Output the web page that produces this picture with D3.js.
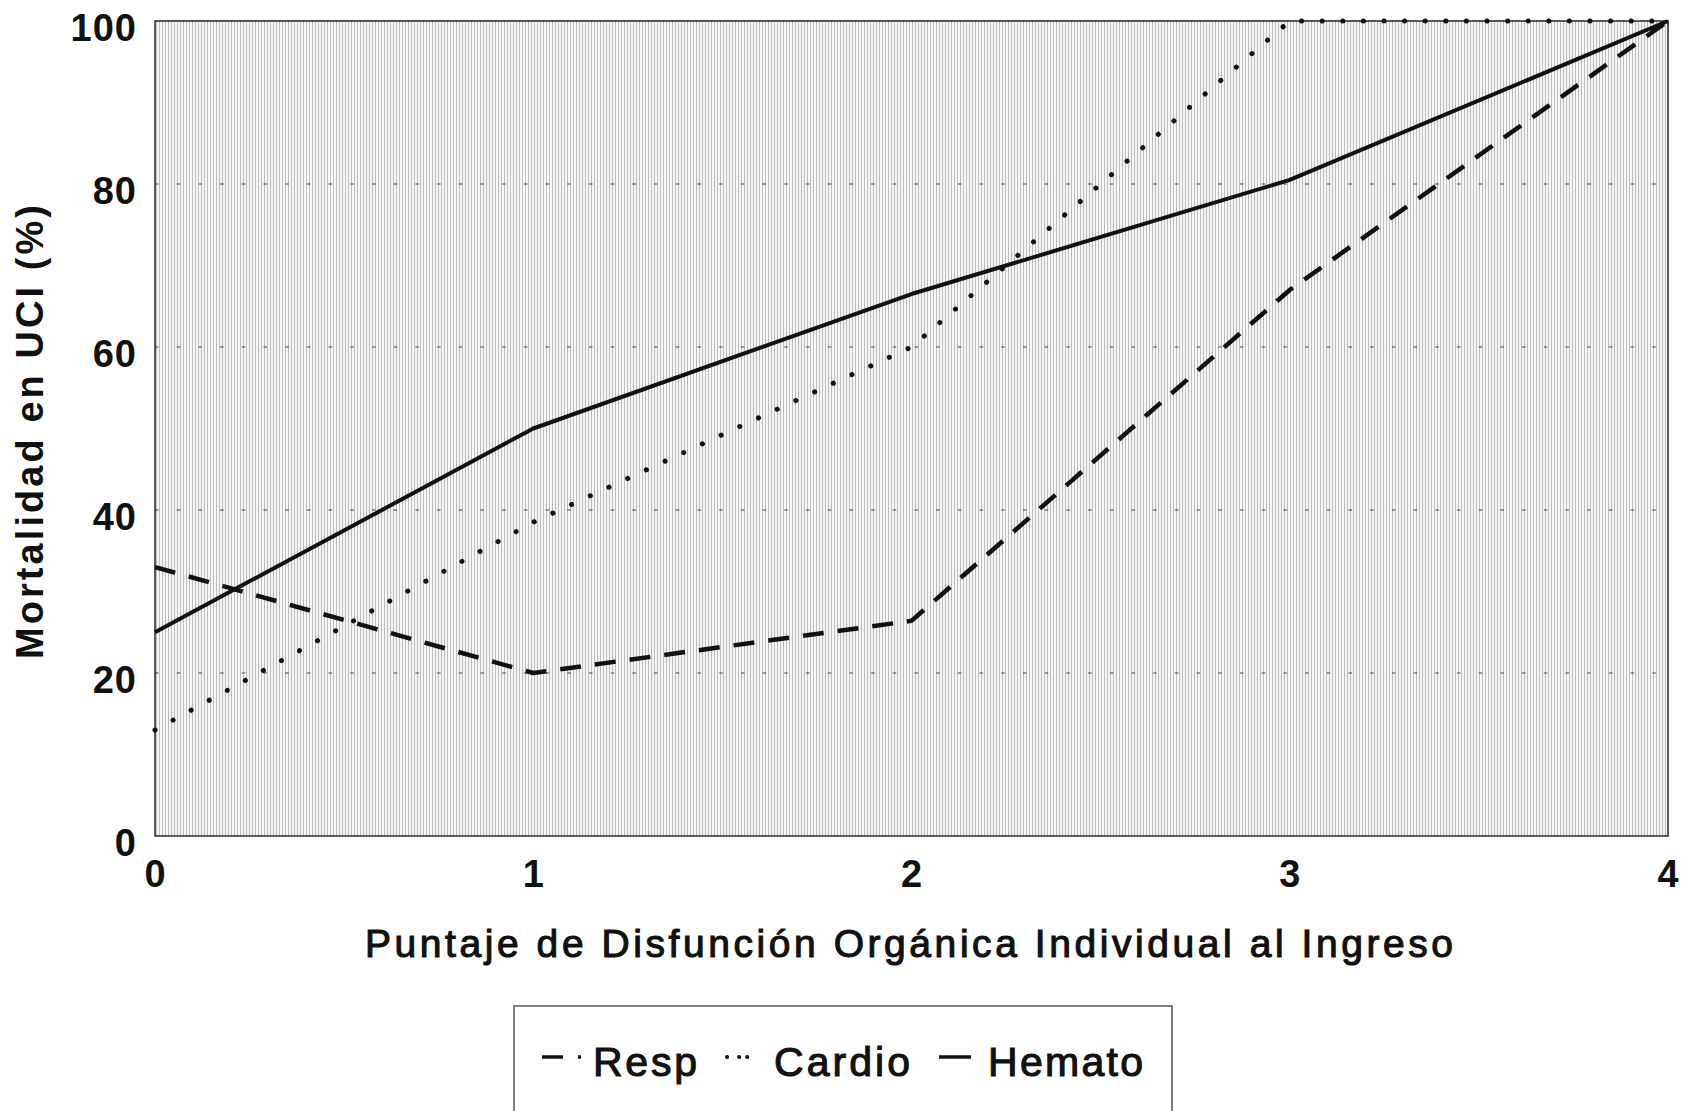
<!DOCTYPE html>
<html lang="es">
<head>
  <meta charset="utf-8">
  <title>Mortalidad en UCI por puntaje de disfunción orgánica</title>
  <script src="https://cdn.jsdelivr.net/npm/d3@7"></script>
  <style>
    body { margin: 0; background: #fff; font-family: "Liberation Sans", Arial, sans-serif; }
  </style>
</head>
<body>
<div id="chart"></div>
<script>

const w = 1682;
const h = 1111;

// data
const scores = [0, 1, 2, 3, 4];
const xTicks = [0, 1, 2, 3, 4];
const yTicks = [0, 20, 40, 60, 80, 100];
const gridValues = [20, 40, 60, 80];
const resp = [33, 20, 26.4, 67, 100];
const cardio = [13, 38.5, 60, 100, 100];
const hemato = [25, 50, 66.5, 80.5, 100];
const seriesNames = ["Resp", "Cardio", "Hemato"];

const plot = { left: 155, right: 1668, top: 21, bottom: 836 };

const x = d3.scaleLinear().domain([0, 4]).range([plot.left, plot.right]);
const y = d3.scaleLinear().domain([0, 100]).range([plot.bottom, plot.top]);

const svg = d3.select("#chart").append("svg")
    .attr("width", w)
    .attr("height", h);

// vertical hatch used as the plot background
const defs = svg.append("defs");
const pat = defs.append("pattern")
    .attr("id", "hatch")
    .attr("patternUnits", "userSpaceOnUse")
    .attr("width", 3)
    .attr("height", 3);
pat.append("rect").attr("width", 3).attr("height", 3).attr("fill", "#f6f6f6");
pat.append("rect").attr("x", 0).attr("width", 1).attr("height", 3).attr("fill", "#bdbdbd");

svg.append("rect")
    .attr("x", plot.left)
    .attr("y", plot.top)
    .attr("width", plot.right - plot.left)
    .attr("height", plot.bottom - plot.top)
    .attr("fill", "url(#hatch)");

// dotted gridlines
svg.selectAll("line.grid")
    .data(gridValues)
    .enter()
    .append("line")
    .attr("class", "grid")
    .attr("x1", plot.left)
    .attr("x2", plot.right)
    .attr("y1", d => y(d))
    .attr("y2", d => y(d))
    .attr("stroke", "#444")
    .attr("stroke-width", 1.2)
    .attr("stroke-dasharray", "3.5 18.2");

// frame
svg.append("rect")
    .attr("x", plot.left)
    .attr("y", plot.top)
    .attr("width", plot.right - plot.left)
    .attr("height", plot.bottom - plot.top)
    .attr("fill", "none")
    .attr("stroke", "#333")
    .attr("stroke-width", 1.6);

// axes, only the labels are visible
const yAxis = svg.append("g")
    .attr("transform", `translate(${plot.left},0)`)
    .call(d3.axisLeft(y).tickValues(yTicks).tickSize(0).tickPadding(18));
const xAxis = svg.append("g")
    .attr("transform", `translate(0,${plot.bottom})`)
    .call(d3.axisBottom(x).tickValues(xTicks).tickFormat(d3.format("d")).tickSize(0).tickPadding(24));

[yAxis, xAxis].forEach(ax => {
    ax.select(".domain").remove();
    ax.selectAll("text")
        .attr("fill", "#111")
        .style("font-family", "'Liberation Sans', Arial, sans-serif")
        .style("font-size", "38px")
        .style("font-weight", "bold")
        .style("letter-spacing", "1px");
});
yAxis.selectAll("text").attr("dy", "0.5em");

// series lines
const line = d3.line()
    .x((d, i) => x(scores[i]))
    .y(d => y(d));

const styles = [
    { data: resp, dash: "21 14", width: 4.5, cap: "butt" },
    { data: cardio, dash: "0.1 20.5", width: 5, cap: "round" },
    { data: hemato, dash: null, width: 4, cap: "butt" }
];

svg.selectAll("path.series")
    .data(styles)
    .enter()
    .append("path")
    .attr("class", "series")
    .attr("d", d => line(d.data))
    .attr("fill", "none")
    .attr("stroke", "#111")
    .attr("stroke-width", d => d.width)
    .attr("stroke-linecap", d => d.cap)
    .attr("stroke-linejoin", "round")
    .attr("stroke-dasharray", d => d.dash);

// axis titles
svg.append("text")
    .attr("transform", "translate(43,432) rotate(-90)")
    .attr("text-anchor", "middle")
    .attr("fill", "#111")
    .attr("font-size", 38)
    .attr("font-weight", "bold")
    .attr("textLength", 454)
    .attr("lengthAdjust", "spacing")
    .text("Mortalidad en UCI (%)");

svg.append("text")
    .attr("x", 909)
    .attr("y", 957)
    .attr("text-anchor", "middle")
    .attr("fill", "#111")
    .attr("stroke", "#111")
    .attr("stroke-width", 1.1)
    .attr("font-size", 39)
    .attr("textLength", 1088)
    .attr("lengthAdjust", "spacing")
    .text("Puntaje de Disfunción Orgánica Individual al Ingreso");

// legend
const legend = svg.append("g").attr("class", "legend");
legend.append("rect")
    .attr("x", 514)
    .attr("y", 1006)
    .attr("width", 658)
    .attr("height", 140)
    .attr("fill", "#fff")
    .attr("stroke", "#555")
    .attr("stroke-width", 1.5);

const legendItems = [
    { sx1: 542, sx2: 581, dash: "21 15", width: 3.5, cap: "butt", tx: 593, tl: 104 },
    { sx1: 727, sx2: 749, dash: "0.1 12 0.1 8", width: 4, cap: "round", tx: 774, tl: 136 },
    { sx1: 939, sx2: 971, dash: null, width: 3.5, cap: "butt", tx: 988, tl: 155 }
];

legend.selectAll("line.sample")
    .data(legendItems)
    .enter()
    .append("line")
    .attr("class", "sample")
    .attr("x1", d => d.sx1)
    .attr("x2", d => d.sx2)
    .attr("y1", 1057)
    .attr("y2", 1057)
    .attr("stroke", "#111")
    .attr("stroke-width", d => d.width)
    .attr("stroke-linecap", d => d.cap)
    .attr("stroke-dasharray", d => d.dash);

legend.selectAll("text.label")
    .data(legendItems)
    .enter()
    .append("text")
    .attr("class", "label")
    .attr("x", d => d.tx)
    .attr("y", 1076)
    .attr("fill", "#111")
    .attr("stroke", "#111")
    .attr("stroke-width", 1.1)
    .attr("font-size", 41)
    .attr("textLength", d => d.tl)
    .attr("lengthAdjust", "spacing")
    .text((d, i) => seriesNames[i]);

</script>
</body>
</html>
